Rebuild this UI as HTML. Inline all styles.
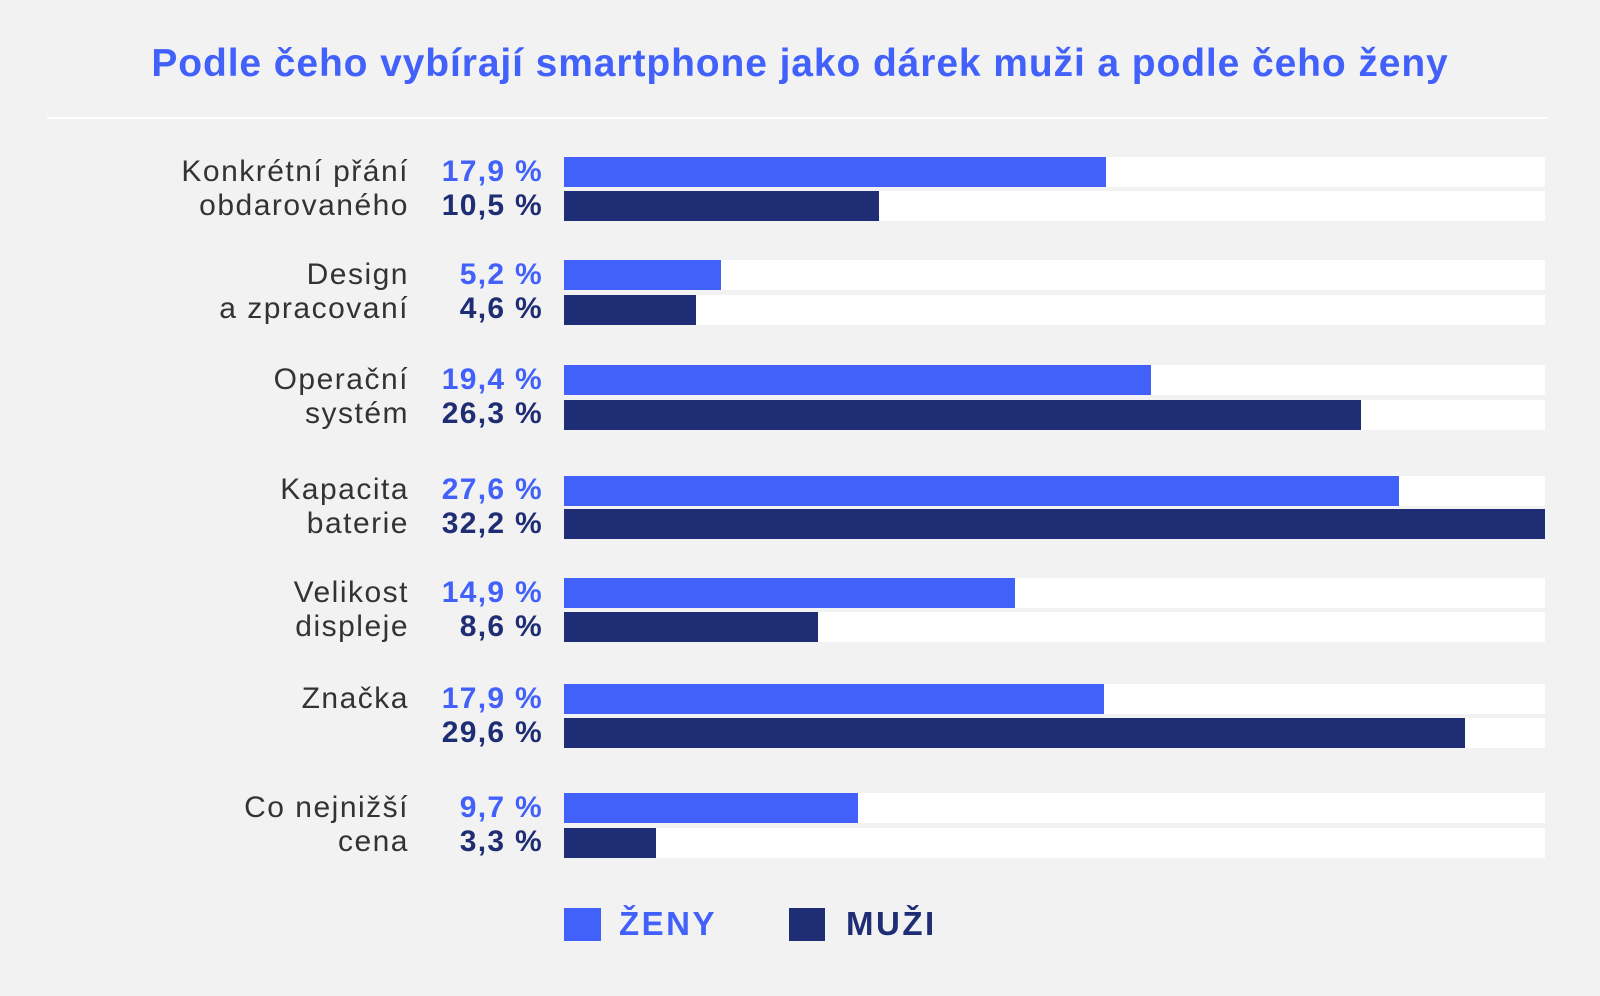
<!DOCTYPE html>
<html><head><meta charset="utf-8"><style>
body{margin:0;width:1600px;height:996px;background:#f2f2f2;font-family:"Liberation Sans",sans-serif;position:relative;overflow:hidden}
.t{position:absolute;left:0;width:1600px;top:42px;text-align:center;color:#4261fb;font-weight:bold;font-size:39px;letter-spacing:0.9px}
.hr{position:absolute;left:47px;width:1501px;top:117px;height:2px;background:#fff}
.bg{position:absolute;left:564px;width:981px;height:30px;background:#fff}
.b{position:absolute;left:0;top:0;height:30px}
.l{background:#4261fb}.d{background:#1f2d74}
.lab{position:absolute;right:1191px;text-align:right;font-size:30px;letter-spacing:1.5px;color:#333;line-height:34px}
.v{position:absolute;right:1057px;text-align:right;font-size:30px;letter-spacing:1.3px;font-weight:bold;line-height:34px}
.vl{color:#4261fb}.vd{color:#1f2d74}
.lg{position:absolute;font-size:33px;letter-spacing:2.5px;font-weight:bold;top:905px}
</style></head><body>
<div class="t">Podle čeho vybírají smartphone jako dárek muži a podle čeho ženy</div>
<div class="hr"></div>
<div class="bg" style="top:157px"><div class="b l" style="width:542px"></div></div>
<div class="bg" style="top:191px"><div class="b d" style="width:315px"></div></div>
<div class="bg" style="top:260px"><div class="b l" style="width:157px"></div></div>
<div class="bg" style="top:295px"><div class="b d" style="width:132px"></div></div>
<div class="bg" style="top:365px"><div class="b l" style="width:587px"></div></div>
<div class="bg" style="top:400px"><div class="b d" style="width:797px"></div></div>
<div class="bg" style="top:476px"><div class="b l" style="width:835px"></div></div>
<div class="bg" style="top:509px"><div class="b d" style="width:981px"></div></div>
<div class="bg" style="top:578px"><div class="b l" style="width:451px"></div></div>
<div class="bg" style="top:612px"><div class="b d" style="width:254px"></div></div>
<div class="bg" style="top:684px"><div class="b l" style="width:540px"></div></div>
<div class="bg" style="top:718px"><div class="b d" style="width:901px"></div></div>
<div class="bg" style="top:793px"><div class="b l" style="width:294px"></div></div>
<div class="bg" style="top:828px"><div class="b d" style="width:92px"></div></div>

<div class="lab" style="top:155px">Konkrétní přání<br>obdarovaného</div>
<div class="lab" style="top:258px">Design<br>a zpracovaní</div>
<div class="lab" style="top:363px">Operační<br>systém</div>
<div class="lab" style="top:473px">Kapacita<br>baterie</div>
<div class="lab" style="top:576px">Velikost<br>displeje</div>
<div class="lab" style="top:682px">Značka</div>
<div class="lab" style="top:791px">Co nejnižší<br>cena</div>

<div class="v vl" style="top:155px">17,9 %</div><div class="v vd" style="top:189px">10,5 %</div>
<div class="v vl" style="top:258px">5,2 %</div><div class="v vd" style="top:292px">4,6 %</div>
<div class="v vl" style="top:363px">19,4 %</div><div class="v vd" style="top:397px">26,3 %</div>
<div class="v vl" style="top:473px">27,6 %</div><div class="v vd" style="top:507px">32,2 %</div>
<div class="v vl" style="top:576px">14,9 %</div><div class="v vd" style="top:610px">8,6 %</div>
<div class="v vl" style="top:682px">17,9 %</div><div class="v vd" style="top:716px">29,6 %</div>
<div class="v vl" style="top:791px">9,7 %</div><div class="v vd" style="top:825px">3,3 %</div>

<div style="position:absolute;left:564px;top:908px;width:37px;height:33px;background:#4261fb"></div>
<div class="lg" style="left:619px;color:#4261fb">ŽENY</div>
<div style="position:absolute;left:789px;top:908px;width:36px;height:33px;background:#1f2d74"></div>
<div class="lg" style="left:846px;color:#1f2d74">MUŽI</div>
</body></html>
